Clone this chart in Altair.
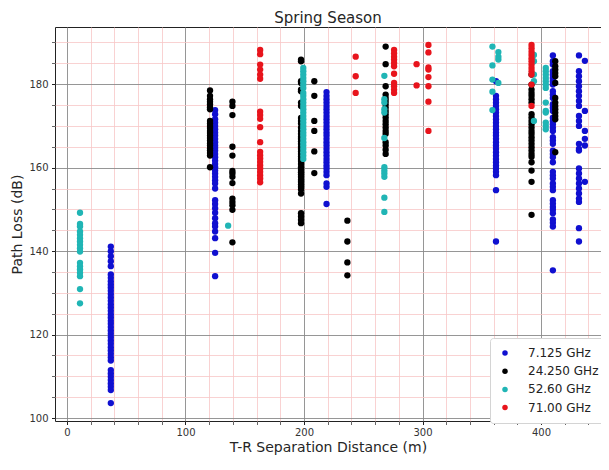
import altair as alt
import pandas as pd

LABELS = ["7.125 GHz", "24.250 GHz", "52.60 GHz", "71.00 GHz"]
COLORS = ["#1010d0", "#000000", "#20b5b5", "#e8141c"]

# 7.125 GHz
F1_DIST = [37, 125, 219, 362, 410, 432, 437]
F1_PL = [
    [141.1, 140.0, 138.8, 137.6, 136.4, 134.4, 133.6, 132.8, 132.0, 131.3, 130.5, 129.7, 128.9, 128.1,
     127.3, 126.5, 125.7, 124.9, 124.1, 123.3, 122.6, 121.8, 121.0, 120.2, 119.4, 118.6, 117.8, 117.0,
     116.2, 115.4, 114.6, 113.8, 111.5, 110.7, 109.9, 109.1, 108.3, 107.5, 106.7, 103.6],
    [173.8, 172.8, 171.6, 170.8, 170.0, 169.2, 168.4, 167.7, 166.9, 166.1, 165.3, 164.7, 164.1, 163.3,
     162.5, 161.7, 160.9, 160.1, 159.3, 158.6, 157.8, 157.0, 156.2, 155.0, 152.2, 151.3, 150.3, 149.2,
     147.9, 146.7, 145.9, 144.7, 143.1, 139.6, 134.0],
    [178.1, 177.2, 176.4, 175.6, 174.8, 174.0, 173.2, 172.4, 171.6, 170.8, 170.0, 169.2, 168.4, 167.7,
     166.9, 166.1, 165.3, 164.5, 163.7, 162.9, 162.1, 161.3, 160.5, 159.8, 159.0, 158.2, 156.2, 155.4, 151.3],
    [180.7, 177.2, 176.4, 175.6, 174.8, 174.0, 173.2, 172.4, 171.6, 170.8, 170.0, 169.2, 168.4, 167.7,
     166.9, 166.1, 165.3, 164.5, 163.7, 162.9, 162.1, 161.3, 160.5, 159.8, 159.0, 158.2, 154.6, 142.3],
    [186.9, 185.5, 184.7, 183.1, 182.3, 181.5, 180.7, 179.9, 178.3, 177.5, 176.7, 175.2, 174.4, 173.6,
     172.0, 171.2, 170.4, 169.6, 168.8, 167.3, 166.5, 165.7, 164.1, 163.3, 162.5, 161.3, 159.0, 158.2,
     157.4, 156.2, 155.4, 154.6, 152.2, 151.4, 150.6, 149.9, 149.1, 147.6, 146.8, 145.9, 135.4],
    [186.9, 183.1, 181.9, 180.7, 179.5, 178.3, 177.2, 176.0, 174.8, 172.4, 171.2, 170.0, 165.7, 164.5,
     164.1, 159.8, 158.6, 157.4, 156.2, 155.0, 153.8, 152.6, 151.8, 145.5, 142.3],
    [185.6, 173.6, 168.8, 166.9, 165.3, 156.6],
]

# 24.250 GHz
F2_DIST = [120.7, 139.6, 197.5, 208.7, 236.6, 268.9, 392, 412]
F2_PL = [
    [178.5, 177.2, 176.4, 175.8, 175.2, 174.5, 174.0, 171.2, 170.6, 170.0, 169.5, 168.8, 168.3, 167.7,
     167.1, 166.5, 165.8, 165.3, 164.6, 164.1, 163.5, 162.9, 160.1],
    [175.8, 174.8, 172.6, 165.0, 162.9, 159.2, 158.6, 157.8, 156.3, 152.6, 151.8, 151.0, 149.9, 142.1],
    [185.9, 185.5, 180.7, 180.3, 178.7, 178.3, 175.6, 174.8, 171.9, 171.2, 170.6, 169.6, 168.8, 168.1,
     167.4, 166.9, 166.3, 165.7, 165.0, 164.5, 163.9, 163.3, 162.7, 162.1, 161.6, 160.9, 160.1, 159.5,
     158.9, 158.4, 157.8, 157.1, 156.6, 156.0, 155.4, 154.8, 153.8, 149.1, 148.3, 147.5, 146.7],
    [180.7, 177.2, 171.2, 168.8, 163.9, 158.7],
    [147.3, 142.3, 137.3, 134.2],
    [189.0, 184.8, 179.5, 177.5, 176.7, 176.0, 175.2, 174.4, 173.6, 172.8, 172.0, 171.2, 170.4, 169.6,
     168.8, 168.1, 166.1, 165.3, 164.3, 163.3],
    [182.3, 179.9, 178.7, 177.9, 177.2, 176.4, 175.6, 172.8, 172.0, 171.2, 170.4, 169.6, 168.8, 168.1,
     167.3, 166.5, 165.7, 164.9, 164.1, 163.3, 162.6, 161.3, 159.3, 156.6, 148.7],
    [185.5, 184.3, 183.5, 182.7, 181.9, 180.3, 176.7, 175.6, 174.8, 174.0, 173.2, 172.4, 171.6, 163.7],
]

# 52.60 GHz
F3_DIST = [11, 136, 199.4, 267.8, 359, 364, 394, 404]
F3_PL = [
    [149.2, 146.5, 145.9, 144.7, 143.9, 143.1, 142.3, 141.5, 140.7, 139.9, 137.2, 136.4, 135.6, 134.8,
     134.0, 130.9, 127.5],
    [146.1],
    [183.9, 183.1, 182.3, 181.5, 180.7, 179.9, 179.1, 177.9, 177.2, 176.4, 175.6, 174.8, 174.0, 173.2,
     172.4, 171.6, 170.8, 170.0, 169.2, 168.4, 167.7, 166.9, 166.1, 165.3, 164.5, 163.7, 162.9, 162.1],
    [182.0, 176.4, 175.6, 174.0, 173.2, 167.1, 160.1, 159.3, 158.6, 157.8, 152.8, 149.4],
    [189.0, 184.5, 181.1, 178.2, 173.8],
    [187.7, 186.6, 185.9, 180.3],
    [187.0, 185.5, 182.3, 180.7, 171.2],
    [183.9, 183.1, 182.3, 181.5, 180.7, 179.9, 179.1, 175.6, 173.6, 173.2, 170.8, 170.0, 169.2],
]

# 71.00 GHz
F4_DIST = [163, 243.6, 276, 295, 305, 392]
F4_PL = [
    [188.2, 187.2, 184.7, 183.5, 182.3, 181.3, 173.4, 172.6, 171.7, 169.7, 166.1, 163.8, 163.0, 162.2,
     161.4, 160.6, 159.8, 159.0, 158.2, 157.4, 156.5],
    [186.6, 181.9, 177.9],
    [188.2, 187.4, 186.6, 185.9, 185.1, 184.3, 182.5, 180.3, 179.5, 178.7, 177.9],
    [184.8, 179.7],
    [189.4, 187.6, 184.0, 183.5, 181.7, 179.5, 175.8, 168.8],
    [189.4, 188.6, 187.8, 187.0, 186.2, 185.5, 184.7, 183.9, 183.1, 182.3, 179.9, 174.8],
]

X_TICKS = list(range(0, 441, 20))
Y_TICKS = list(range(100, 191, 5))

rows = []
for label, dists, pls in zip(LABELS, [F1_DIST, F2_DIST, F3_DIST, F4_DIST], [F1_PL, F2_PL, F3_PL, F4_PL]):
    for d, vals in zip(dists, pls):
        for v in vals:
            rows.append({"d": d, "pl": v, "freq": label})
df = pd.DataFrame(rows)

MAJOR = "#8a8a8a"
MINOR = "#f7c6c6"

x_axis = alt.Axis(
    values=X_TICKS,
    title="T-R Separation Distance (m)",
    labelExpr="datum.value % 100 === 0 ? datum.label : ''",
    labelOverlap=False,
    labelFlush=False,
    gridColor={"condition": {"test": "datum.value % 100 === 0", "value": MAJOR}, "value": MINOR},
    gridWidth={"condition": {"test": "datum.value % 100 === 0", "value": 0.9}, "value": 0.8},
    tickColor={"condition": {"test": "datum.value % 100 === 0", "value": "#222222"}, "value": "#666666"},
    tickSize=3.5,
    labelPadding=3,
    titlePadding=3,
    domain=False,
)
y_axis = alt.Axis(
    values=Y_TICKS,
    title="Path Loss (dB)",
    labelExpr="datum.value % 20 === 0 ? datum.label : ''",
    labelOverlap=False,
    labelFlush=False,
    gridColor={"condition": {"test": "datum.value % 20 === 0", "value": MAJOR}, "value": MINOR},
    gridWidth={"condition": {"test": "datum.value % 20 === 0", "value": 0.9}, "value": 0.8},
    tickColor={"condition": {"test": "datum.value % 20 === 0", "value": "#222222"}, "value": "#666666"},
    tickSize=3.5,
    labelPadding=3.5,
    titlePadding=4,
    domain=False,
)

chart = (
    alt.Chart(df)
    .mark_circle(size=40, opacity=1)
    .encode(
        x=alt.X("d:Q", scale=alt.Scale(domain=[-10.1, 450.6], nice=False, zero=False), axis=x_axis),
        y=alt.Y("pl:Q", scale=alt.Scale(domain=[99.3, 193.7], nice=False, zero=False), axis=y_axis),
        color=alt.Color(
            "freq:N",
            scale=alt.Scale(domain=LABELS, range=COLORS),
            legend=alt.Legend(
                title=None,
                orient="none",
                legendX=435,
                legendY=311,
                padding=9,
                fillColor="white",
                strokeColor="#d4d4d4",
                cornerRadius=3,
                symbolType="circle",
                symbolSize=30,
                symbolStrokeWidth=0,
                symbolOpacity=1,
                labelFontSize=12,
                labelFont="DejaVu Sans",
                labelColor="#222222",
                labelOffset=17,
                rowPadding=6.2,
            ),
        ),
    )
    .properties(
        width=546,
        height=394,
        title=alt.TitleParams(
            "Spring Season", fontSize=15, font="DejaVu Sans", fontWeight="normal",
            color="#262626", offset=1, anchor="middle",
        ),
        autosize=alt.AutoSizeParams(type="none"),
        padding={"left": 47, "top": 19, "right": 0, "bottom": 36},
    )
    .configure_view(stroke="#222222", strokeWidth=1)
    .configure_axis(
        labelFont="DejaVu Sans",
        labelFontSize=10,
        labelColor="#333333",
        titleFont="DejaVu Sans",
        titleFontSize=14,
        titleFontWeight="normal",
        titleColor="#262626",
    )
)

chart.save("out.html", embed_options={"renderer": "svg", "actions": False})
